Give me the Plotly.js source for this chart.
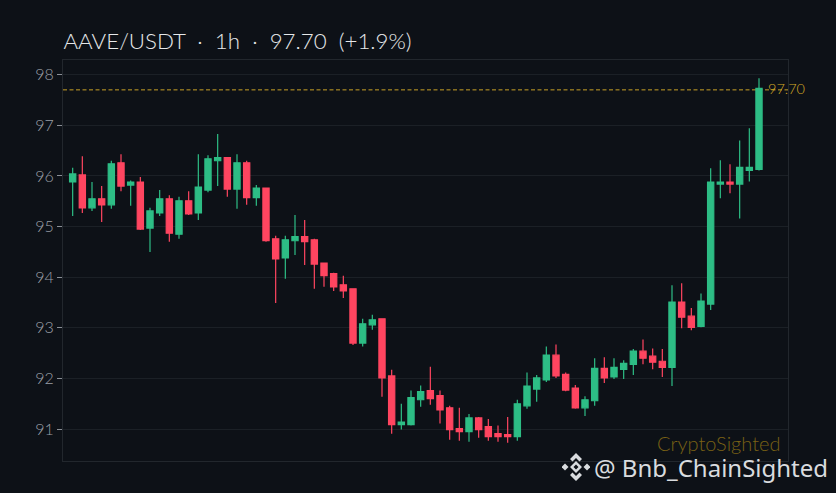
<!DOCTYPE html>
<html>
<head>
<meta charset="utf-8">
<script src="https://cdn.plot.ly/plotly-3.0.1.min.js"></script>
<style>html,body{margin:0;padding:0;background:#0d1117;overflow:hidden}#c{width:836px;height:493px}</style>
</head>
<body>
<div id="c"></div>
<script>
const opens = [95.88,96.02,95.37,95.55,95.43,96.26,95.82,95.88,94.97,95.27,95.55,94.85,95.51,95.27,95.72,96.30,96.36,95.74,96.26,95.57,95.76,94.76,94.38,94.72,94.80,
94.74,94.28,94.07,93.85,93.77,92.70,93.06,93.18,92.05,91.09,91.09,91.58,91.76,91.66,91.42,91.01,90.95,91.22,91.05,90.91,90.89,90.85,91.46,91.79,91.97,92.46,92.08,91.81,91.42,91.56,92.20,92.03,92.18,92.28,92.54,92.44,92.34,
92.22,93.51,93.23,93.03,93.47,95.84,95.88,95.84,96.11,96.13];
const closes = [96.04,95.37,95.55,95.43,96.24,95.80,95.88,94.95,95.31,95.55,94.87,95.51,95.25,95.78,96.34,96.36,95.74,96.26,95.57,95.76,94.72,94.36,94.74,94.80,94.70,
94.26,94.03,93.81,93.73,92.70,93.08,93.16,92.01,91.09,91.14,91.62,91.74,91.60,91.38,90.99,90.95,91.22,90.99,90.85,90.85,90.85,91.50,91.85,92.01,92.46,92.05,91.77,91.42,91.58,92.20,92.01,92.22,92.30,92.54,92.40,92.32,92.22,
93.51,93.21,93.01,93.53,95.88,95.88,95.84,96.17,96.17,97.73];
const highs = [96.16,96.39,95.88,95.80,96.30,96.43,95.91,95.98,95.37,95.72,95.62,95.59,95.70,96.43,96.41,96.83,96.36,96.43,96.30,95.82,95.77,94.82,94.82,95.23,95.13,
94.76,94.28,94.09,94.03,93.77,93.18,93.26,93.19,92.17,91.50,91.76,91.86,92.23,91.76,91.46,91.42,91.30,91.24,91.20,91.07,91.24,91.58,92.12,92.07,92.63,92.67,92.12,91.87,91.65,92.40,92.42,92.40,92.36,92.58,92.77,92.59,92.58,
93.84,93.88,93.39,93.68,96.15,96.31,96.23,96.70,96.94,97.93];
const lows = [95.21,95.27,95.31,95.09,95.35,95.70,95.41,94.93,94.50,95.21,94.70,94.76,95.23,95.13,95.68,95.80,95.59,95.35,95.43,95.41,94.70,93.49,93.97,94.44,94.24,
93.77,93.81,93.73,93.59,92.66,92.63,92.96,91.64,90.91,90.99,91.07,91.44,91.48,91.11,90.79,90.77,90.75,90.83,90.77,90.75,90.73,90.77,91.40,91.54,91.93,92.01,91.75,91.40,91.26,91.46,91.91,91.99,91.99,92.07,92.28,92.18,92.03,
91.85,92.99,92.95,93.01,93.35,95.56,95.66,95.16,95.89,96.11];
const yTicks = [91,92,93,94,95,96,97,98];
const lastPrice = 97.70;
const titleText = "AAVE/USDT  ·  1h  ·  97.70  (+1.9%)";
const UP = "#2dbd85", DOWN = "#ff4560", GOLD = "#c9a227";
const GEO = "Lato";

const logo = "data:image/svg+xml;utf8," + encodeURIComponent(
 '<svg xmlns="http://www.w3.org/2000/svg" viewBox="0 0 28 28"><g fill="#d9dcdf">' +
 '<path d="M14 0 L20 6 L17.5 8.5 L14 5 L10.5 8.5 L8 6 Z"/>' +
 '<path d="M14 28 L20 22 L17.5 19.5 L14 23 L10.5 19.5 L8 22 Z"/>' +
 '<path d="M3 10.5 L6.5 14 L3 17.5 L-0.5 14 Z"/><path d="M25 10.5 L28.5 14 L25 17.5 L21.5 14 Z"/>' +
 '<path d="M14 8 L20 14 L14 20 L8 14 Z M14 11.5 L11.5 14 L14 16.5 L16.5 14 Z" fill-rule="evenodd"/></g></svg>');

Plotly.newPlot("c", [{
  type: "candlestick",
  x: opens.map((_, i) => i),
  open: opens, high: highs, low: lows, close: closes,
  whiskerwidth: 0,
  increasing: {line: {color: UP, width: 1.2}, fillcolor: UP},
  decreasing: {line: {color: DOWN, width: 1.2}, fillcolor: DOWN},
  hoverinfo: "skip"
}], {
  width: 836, height: 493,
  paper_bgcolor: "#0d1117", plot_bgcolor: "#0d1117",
  margin: {l: 63, r: 48, t: 60, b: 32, pad: 0},
  boxgap: 0.08,
  showlegend: false,
  title: {text: titleText, x: 63.5/836, xanchor: "left", y: 1 - 41/493, yanchor: "middle",
          font: {family: GEO, size: 22.3, weight: 300, color: "#e6e8ea"}},
  xaxis: {range: [-1, 74], type: "linear", showticklabels: false, ticks: "", showgrid: false, zeroline: false,
          rangeslider: {visible: false}, showline: true, mirror: true, linecolor: "#22272d", linewidth: 1},
  yaxis: {range: [90.37, 98.29], tickvals: yTicks, ticktext: yTicks.map(String), ticks: "outside", ticklen: 5,
          tickcolor: "#8a8f96", tickwidth: 1, tickfont: {family: GEO, size: 16, weight: 300, color: "#9a9fa6"},
          gridcolor: "#1b2026", gridwidth: 1, zeroline: false, showline: true, mirror: true, linecolor: "#22272d", linewidth: 1},
  shapes: [{type: "line", xref: "paper", x0: 0, x1: 1, yref: "y", y0: lastPrice, y1: lastPrice, layer: "below",
            line: {color: GOLD, width: 1, dash: "4px,2.5px"}}],
  annotations: [
    {xref: "x", x: 71.7, xanchor: "left", yref: "y", y: lastPrice + 0.02, yanchor: "middle", showarrow: false,
     text: lastPrice.toFixed(2), font: {family: GEO, size: 14.5, weight: 300, color: "#d4aa26"}},
    {xref: "paper", x: 1 - 6/725, xanchor: "right", yref: "paper", y: 18/401, yanchor: "middle", showarrow: false,
     text: "CryptoSighted", font: {family: GEO, size: 20, weight: 300, color: "#7a6115"}},
    {xref: "paper", x: (830-63)/725, xanchor: "right", yref: "paper", y: -7/401, yanchor: "middle", showarrow: false,
     text: "@ Bnb_ChainSighted", font: {family: "Noto Sans", size: 24, color: "#d9dcdf"}}
  ],
  images: [{source: logo, xref: "paper", yref: "paper", x: (562-63)/725, y: (461-453)/401, sizex: 28/725, sizey: 28/401,
            xanchor: "left", yanchor: "top", sizing: "contain", layer: "above"}]
}, {displayModeBar: false, staticPlot: true});
</script>
</body>
</html>
